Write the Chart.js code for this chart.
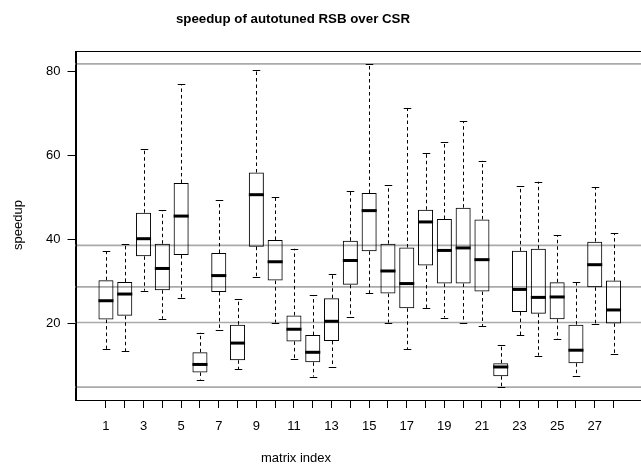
<!DOCTYPE html>
<html>
<head>
<meta charset="utf-8">
<script src="https://cdn.jsdelivr.net/npm/chart.js@4.4.0/dist/chart.umd.min.js"></script>
<style>
html,body{margin:0;padding:0;background:#fff;overflow:hidden;}
#wrap{width:660px;height:470px;}
</style>
</head>
<body>
<div id="wrap"><canvas id="c" width="660" height="470"></canvas></div>
<script>
const chartTitle = 'speedup of autotuned RSB over CSR';
const xAxisTitle = 'matrix index';
const yAxisTitle = 'speedup';
const matrixIndex = [1,2,3,4,5,6,7,8,9,10,11,12,13,14,15,16,17,18,19,20,21,22,23,24,25,26,27,28];
const xTickLabels = ['1','','3','','5','','7','','9','','11','','13','','15','','17','','19','','21','','23','','25','','27',''];
const whiskerLow    = [13.9,13.3,27.8,21.1,26.0,6.6,18.5,9.0,31.0,20.2,11.6,7.3,9.5,21.5,27.2,20.2,13.9,23.7,21.4,20.2,19.4,4.8,17.2,12.3,16.2,7.4,19.8,12.8];
const lowerQuartile = [20.9,21.8,36.0,27.9,36.3,8.3,27.5,11.2,38.3,30.2,15.7,10.7,15.8,29.2,37.2,27.1,23.6,33.8,29.5,29.5,27.6,7.4,22.7,22.3,21.0,10.5,28.6,20.0];
const medianValue   = [25.4,27.0,40.2,33.1,45.6,10.2,31.4,15.3,50.7,34.7,18.6,13.1,20.5,35.0,46.9,32.5,29.5,44.2,37.4,38.0,35.2,9.6,28.1,26.2,26.3,13.6,34.0,23.2];
const upperQuartile = [30.3,29.9,46.4,39.0,53.5,13.1,36.8,19.7,56.0,39.9,21.9,17.2,26.0,39.7,51.1,39.0,38.1,47.1,44.9,47.6,44.8,10.5,37.3,37.8,29.8,19.7,39.5,30.2];
const whiskerHigh   = [37.2,39.0,61.5,47.0,77.1,17.8,49.4,25.7,80.5,50.2,37.8,26.7,31.7,51.5,81.9,52.9,71.4,60.6,63.2,68.2,58.8,14.8,52.8,53.8,41.0,29.9,52.5,41.5];
const referenceLines = [81.9,38.6,28.7,20.2,4.8];
const yTickValues = [20,40,60,80];

const FONT = "'Liberation Sans', Arial, Helvetica, sans-serif";

const boxPlugin = {
  id: 'boxDecor',
  beforeDatasetsDraw(chart) {
    const ctx = chart.ctx, ys = chart.scales.y, a = chart.chartArea;
    ctx.save();
    ctx.strokeStyle = '#aaaaaa';
    ctx.lineWidth = 1.6;
    referenceLines.forEach(v => {
      const py = ys.getPixelForValue(v);
      ctx.beginPath();
      ctx.moveTo(a.left, py);
      ctx.lineTo(a.right, py);
      ctx.stroke();
    });
    ctx.restore();
  },
  afterDatasetsDraw(chart) {
    const ctx = chart.ctx, ys = chart.scales.y;
    const meta = chart.getDatasetMeta(0);
    ctx.save();
    meta.data.forEach((bar, i) => {
      const x = Math.round(bar.x) + 0.5;
      const w = bar.width;
      const yLo = ys.getPixelForValue(whiskerLow[i]);
      const yQ1 = ys.getPixelForValue(lowerQuartile[i]);
      const yMed = ys.getPixelForValue(medianValue[i]);
      const yQ3 = ys.getPixelForValue(upperQuartile[i]);
      const yHi = ys.getPixelForValue(whiskerHigh[i]);
      ctx.strokeStyle = '#000';
      ctx.lineWidth = 1;
      ctx.setLineDash([3.5, 3]);
      ctx.beginPath();
      ctx.moveTo(x, yQ1); ctx.lineTo(x, yLo);
      ctx.moveTo(x, yQ3); ctx.lineTo(x, yHi);
      ctx.stroke();
      ctx.setLineDash([]);
      ctx.beginPath();
      ctx.moveTo(x - w / 4, Math.round(yLo) + 0.5); ctx.lineTo(x + w / 4, Math.round(yLo) + 0.5);
      ctx.moveTo(x - w / 4, Math.round(yHi) + 0.5); ctx.lineTo(x + w / 4, Math.round(yHi) + 0.5);
      ctx.stroke();
      ctx.lineWidth = 3;
      ctx.beginPath();
      ctx.moveTo(bar.x - w / 2, yMed); ctx.lineTo(bar.x + w / 2, yMed);
      ctx.stroke();
    });
    ctx.restore();
  },
  afterDraw(chart) {
    const ctx = chart.ctx, a = chart.chartArea;
    ctx.save();
    ctx.strokeStyle = '#000';
    ctx.lineWidth = 1;
    ctx.strokeRect(Math.round(a.left) + 0.5, Math.round(a.top) + 0.5, a.right - a.left, a.bottom - a.top);
    ctx.fillStyle = '#000';
    ctx.textAlign = 'center';
    ctx.textBaseline = 'middle';
    ctx.font = 'bold 13.3px ' + FONT;
    ctx.fillText(chartTitle, 293, 19);
    ctx.font = '13px ' + FONT;
    ctx.fillText(xAxisTitle, 296, 458);
    ctx.translate(18, 225);
    ctx.rotate(-Math.PI / 2);
    ctx.fillText(yAxisTitle, 0, 0);
    ctx.restore();
  }
};

new Chart(document.getElementById('c'), {
  type: 'bar',
  data: {
    datasets: [{
      data: matrixIndex.map((x, i) => ({ x: x, y: [lowerQuartile[i], upperQuartile[i]] })),
      backgroundColor: 'rgba(0,0,0,0)',
      borderColor: '#000',
      borderWidth: 1,
      borderSkipped: false,
      barPercentage: 0.8,
      categoryPercentage: 1.0
    }]
  },
  options: {
    responsive: false,
    animation: false,
    layout: { padding: { top: 51, right: 16, bottom: 0, left: 0 } },
    plugins: { legend: { display: false }, tooltip: { enabled: false }, title: { display: false } },
    scales: {
      x: {
        type: 'linear',
        min: -0.62,
        max: 29.62,
        offset: false,
        afterBuildTicks: s => { s.ticks = matrixIndex.map(v => ({ value: v })); },
        afterFit: s => { s.height = 70; },
        grid: { drawOnChartArea: false, drawTicks: true, tickLength: 8, color: '#000', offset: false },
        border: { display: true, color: '#000' },
        ticks: {
          autoSkip: false, maxRotation: 0, padding: 11, color: '#000',
          font: { family: FONT, size: 13 },
          callback: (v, i) => xTickLabels[i]
        }
      },
      y: {
        type: 'linear',
        min: 1.72,
        max: 84.98,
        afterBuildTicks: s => { s.ticks = yTickValues.map(v => ({ value: v })); },
        afterFit: s => { s.width = 75.5; },
        grid: { drawOnChartArea: false, drawTicks: true, tickLength: 8, color: '#000' },
        border: { display: true, color: '#000' },
        ticks: { padding: 7, color: '#000', font: { family: FONT, size: 13 } }
      }
    }
  },
  plugins: [boxPlugin]
});
</script>
</body>
</html>
